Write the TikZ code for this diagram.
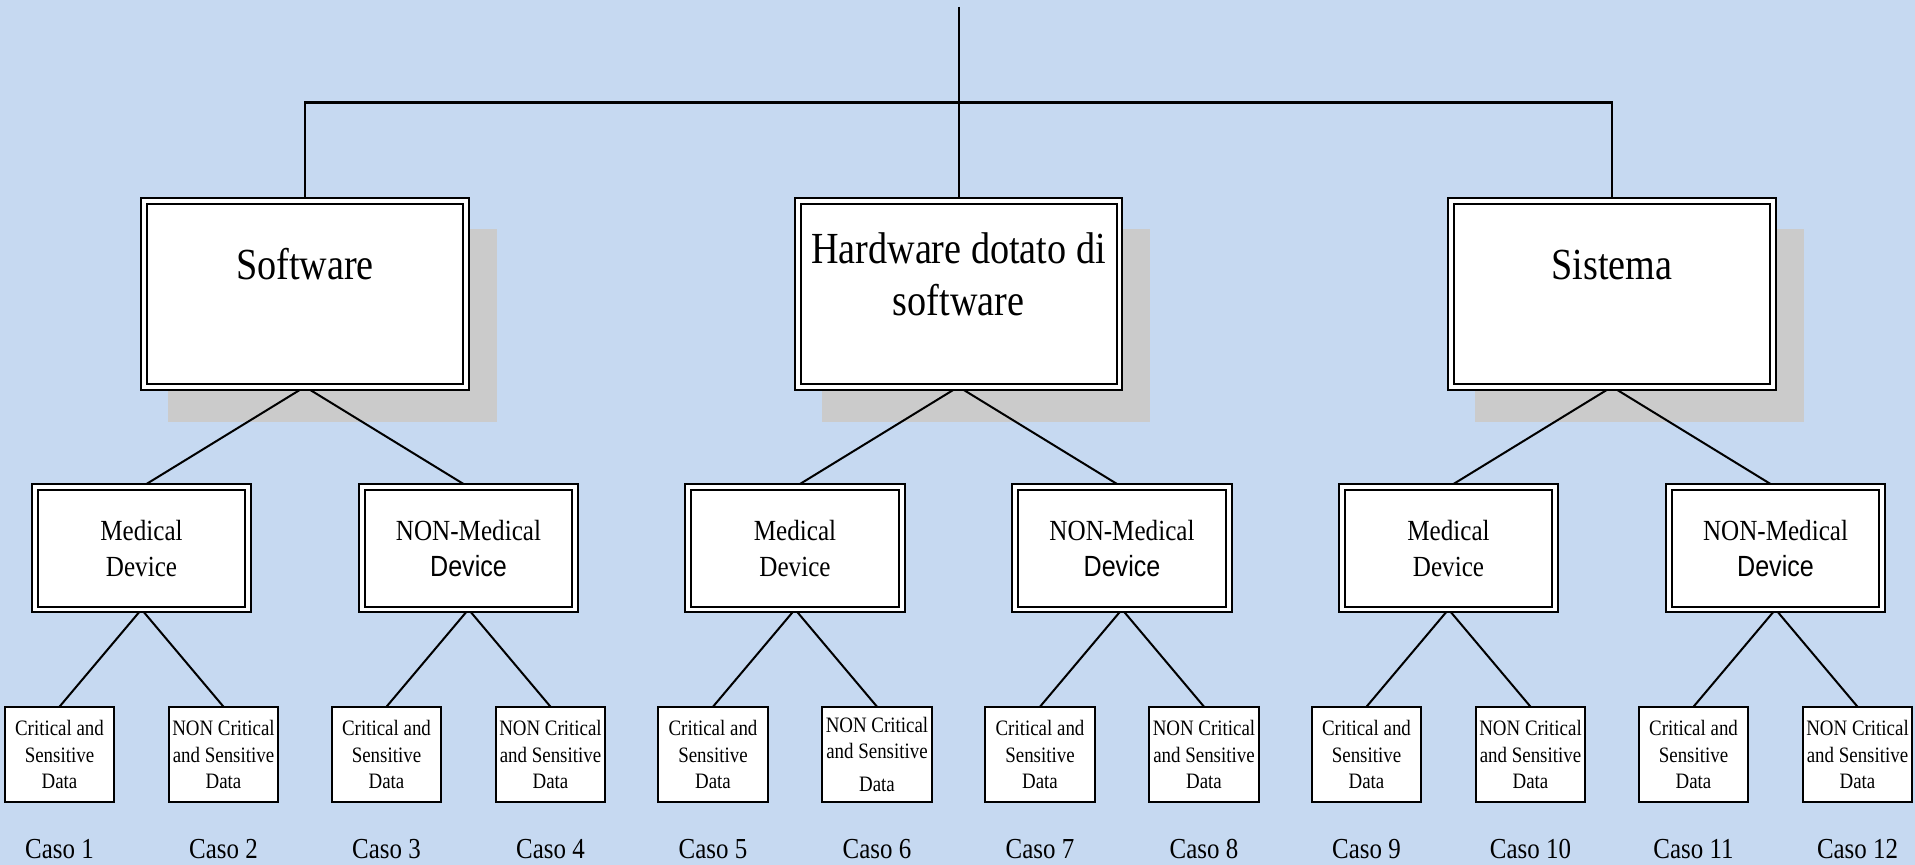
\documentclass[tikz,border=0pt]{standalone}
\usepackage{fontspec}
\setmainfont{Liberation Serif}[FakeStretch=0.86]
\newfontfamily\devsans{Liberation Sans}[FakeStretch=0.86]
\definecolor{bgblue}{HTML}{C6D9F1}
\definecolor{shadowgray}{HTML}{CBCBCB}
\pgfdeclarelayer{canvaslayer}
\pgfdeclarelayer{shadowlayer}
\pgfdeclarelayer{linklayer}
\pgfsetlayers{canvaslayer,shadowlayer,linklayer,main}

\tikzset{
  topbox/.style={draw, fill=white, double, double distance=1.85pt, line width=1pt,
    minimum width=160.85pt, minimum height=92.75pt, inner sep=0pt, outer sep=0pt},
  midbox/.style={draw, fill=white, double, double distance=1.85pt, line width=1pt,
    minimum width=106.7pt, minimum height=61.15pt, inner sep=0pt, outer sep=0pt,
    align=center, font=\fontsize{14.6}{17.85}\selectfont},
  leafbox/.style={draw, fill=white, line width=1pt,
    minimum width=54.75pt, minimum height=47.8pt, inner sep=0pt, outer sep=0pt,
    align=center, font=\fontsize{11}{13.3}\selectfont},
  toptext/.style={inner sep=0pt, align=center, font=\fontsize{22.2}{26}\selectfont},
  casolabel/.style={inner sep=0pt, anchor=base, font=\fontsize{14.5}{17}\selectfont},
  link/.style={draw=black, line width=1pt},
  rootlink/.style={draw=black, line width=1pt},
  buslink/.style={draw=black, line width=1.2pt},
  boxshadow/.style={fill=shadowgray}
}

\begin{document}
\begin{tikzpicture}[x=0.5pt,y=-0.5pt]
% canvas
\begin{pgfonlayer}{canvaslayer}
  \fill[bgblue] (0,0) rectangle (1915,865);
\end{pgfonlayer}
\useasboundingbox (0,0) rectangle (1915,865);

% first level
\node[topbox] (t1) at (305,294) {};
\node[topbox] (t2) at (958.5,294) {};
\node[topbox] (t3) at (1612,294) {};
\node[toptext, anchor=base] (t1txt) at (305,280) {Software};
\node[toptext] (t2txt) at (958.5,274) {Hardware dotato di\\software};
\node[toptext, anchor=base] (t3txt) at (1612,280) {Sistema};

% second level
\foreach \j/\x in {1/141.5,3/795,5/1448.5}
  \node[midbox] (m\j) at (\x,548.2) {Medical\\Device};
\foreach \j/\x in {2/468.5,4/1122,6/1775.5}
  \node[midbox] (m\j) at (\x,548.2) {NON-Medical\\{\devsans Device}};

% data classes
\foreach \k/\x in {1/59.5,3/386.5,5/713,7/1040,9/1366.5,11/1693.5}
  \node[leafbox] (l\k) at (\x,754.5) {Critical and\\Sensitive\\Data};
\foreach \k/\x in {2/223.5,4/550.5,8/1204,10/1530.5,12/1857.5}
  \node[leafbox] (l\k) at (\x,754.5) {NON Critical\\and Sensitive\\Data};
\node[leafbox] (l6) at (877,754.5) {NON Critical\\and Sensitive\\[3.3pt]Data};

% case labels
\foreach \k/\x in {1/59.5,2/223.5,3/386.5,4/550.5,5/713,6/877,7/1040,8/1204,9/1366.5,10/1530.5,11/1693.5,12/1857.5}
  \node[casolabel] (c\k) at (\x,858) {Caso \k};

% shadows behind the first-level boxes
\begin{pgfonlayer}{shadowlayer}
  \foreach \b in {t1,t2,t3}
    \fill[boxshadow] ([shift={(24,28)}]\b.north west) rectangle ([shift={(31,35)}]\b.south east);
\end{pgfonlayer}

% connectors
\begin{pgfonlayer}{linklayer}
  \coordinate (root) at (958.5,7);
  \coordinate (bus) at (958.5,102.7);
  \draw[rootlink] (root) -- (t2.north);
  \draw[buslink] (t1.north) |- (bus) -| (t3.north);
  \foreach \i in {1,2,3} {
    \pgfmathtruncatemacro{\a}{2*\i-1}
    \pgfmathtruncatemacro{\b}{2*\i}
    \draw[link] (t\i.south) -- (m\a.north);
    \draw[link] (t\i.south) -- (m\b.north);
  }
  \foreach \j in {1,...,6} {
    \pgfmathtruncatemacro{\a}{2*\j-1}
    \pgfmathtruncatemacro{\b}{2*\j}
    \draw[link] (m\j.south) -- (l\a.north);
    \draw[link] (m\j.south) -- (l\b.north);
  }
\end{pgfonlayer}
\end{tikzpicture}
\end{document}
